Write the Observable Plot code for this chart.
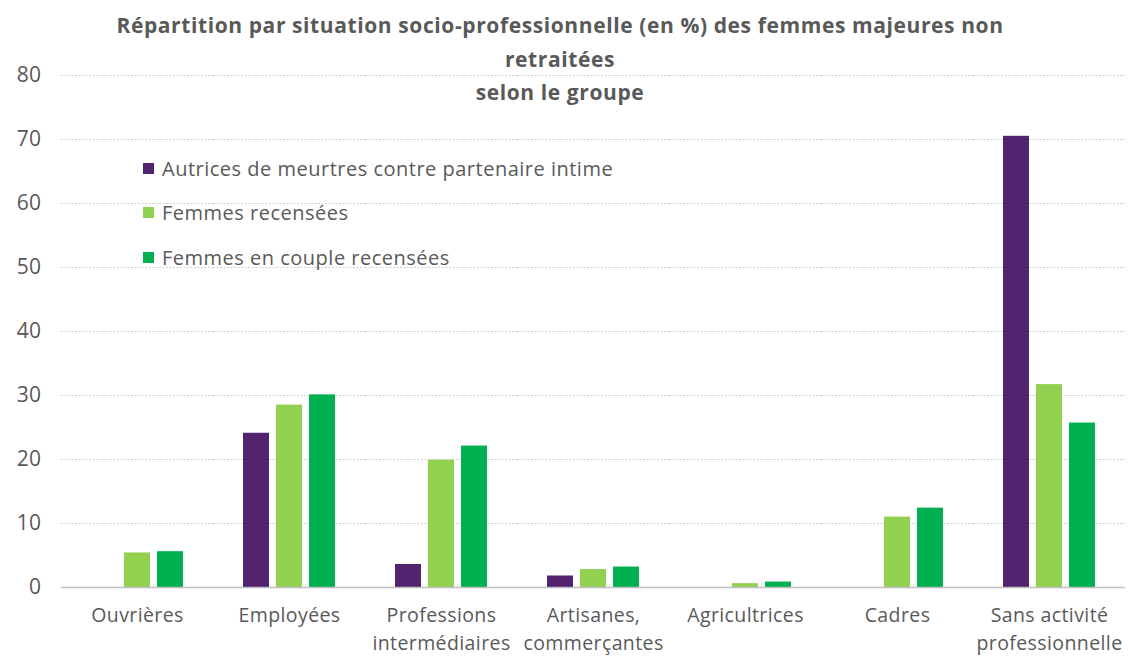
<!DOCTYPE html>
<html><head><meta charset="utf-8">
<script src="https://cdn.jsdelivr.net/npm/d3@7"></script>
<script src="https://cdn.jsdelivr.net/npm/@observablehq/plot@0.6"></script>
<style>
body{margin:0;background:#fff;}
#wrap{position:relative;width:1128px;height:657px;font-family:"Open Sans",sans-serif;color:#595959;overflow:hidden;}
#chart{position:absolute;left:0;top:0;}
#title{position:absolute;left:0;width:1120px;top:9px;text-align:center;font-weight:700;font-size:21px;line-height:33.5px;letter-spacing:0.6px;z-index:2;}
#legend{position:absolute;left:143px;top:146px;font-size:20px;letter-spacing:0.5px;z-index:2;}
.item{display:flex;align-items:center;height:44.5px;white-space:nowrap;}
.sw{width:11px;height:11px;margin-right:8px;flex:none;}
</style></head>
<body>
<div id="wrap">
  <div id="chart"></div>
  <div id="title"></div>
  <div id="legend"></div>
</div>
<script>
const titleLines = ["Répartition par situation socio-professionnelle (en %) des femmes majeures non", "retraitées", "selon le groupe"];
const categories = ["Ouvrières", "Employées", "Professions intermédiaires", "Artisanes, commerçantes", "Agricultrices", "Cadres", "Sans activité professionnelle"];
const tickLabels = ["Ouvrières", "Employées", "Professions\nintermédiaires", "Artisanes,\ncommerçantes", "Agricultrices", "Cadres", "Sans activité\nprofessionnelle"];
const series = ["Autrices de meurtres contre partenaire intime", "Femmes recensées", "Femmes en couple recensées"];
const autrices = [null, 24.1, 3.6, 1.8, null, null, 70.5];
const femmesRecensees = [5.4, 28.5, 19.9, 2.8, 0.6, 11.0, 31.7];
const femmesCouple = [5.6, 30.1, 22.1, 3.2, 0.85, 12.4, 25.7];
const colors = ["#52236f", "#92d050", "#00b050"];
const yTicks = [0, 10, 20, 30, 40, 50, 60, 70, 80];

const valuesBySeries = [autrices, femmesRecensees, femmesCouple];
const data = categories.flatMap((c, i) => series.map((s, j) => ({cat: c, series: s, value: valuesBySeries[j][i]})))
  .filter(d => d.value != null);

document.getElementById("title").innerHTML = titleLines.map(t => `<div>${t}</div>`).join("");
document.getElementById("legend").innerHTML = series.map((s, j) =>
  `<div class="item"><div class="sw" style="background:${colors[j]}"></div><span>${s}</span></div>`).join("");

const chart = Plot.plot({
  width: 1128, height: 657,
  marginTop: 75, marginBottom: 70, marginLeft: 58, marginRight: 0,
  style: {fontFamily: "Open Sans, sans-serif", color: "#595959", background: "white", overflow: "visible", letterSpacing: "0.4px"},
  fx: {domain: categories, padding: 0, label: null},
  x: {domain: series, paddingInner: 0.2, paddingOuter: 0.85, axis: null},
  y: {domain: [0, 80], axis: null},
  color: {domain: series, range: colors},
  marks: [
    Plot.ruleY(yTicks.filter(d => d > 0), {stroke: "#d0d0d0", strokeDasharray: "2,1.5"}),
    Plot.barY(data, {fx: "cat", x: "series", y: "value", fill: "series"}),
    Plot.ruleY([0], {stroke: "#bfbfbf", strokeWidth: 1.5}),
    Plot.axisY({ticks: yTicks, tickSize: 0, tickPadding: 20, fontSize: 21, fill: "#595959", label: null}),
    Plot.axisFx({anchor: "bottom", tickSize: 0, tickPadding: 14, fontSize: 19.5, lineHeight: 1.45, fill: "#595959", label: null,
      tickFormat: d => tickLabels[categories.indexOf(d)]})
  ]
});
document.getElementById("chart").appendChild(chart);
</script>
</body></html>
